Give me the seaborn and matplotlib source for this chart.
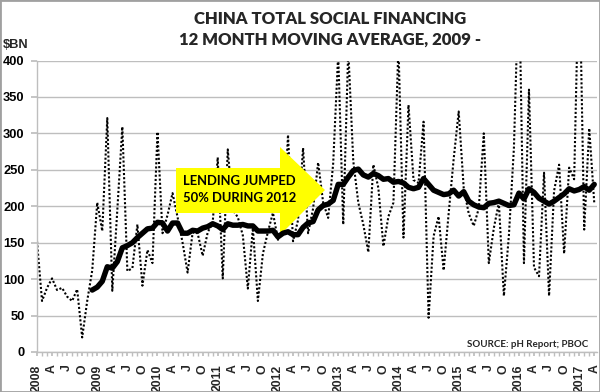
import numpy as np
import pandas as pd
import matplotlib
matplotlib.use("Agg")
import matplotlib.pyplot as plt
import seaborn as sns
from matplotlib.patches import Polygon, Rectangle

# ---------------- data ----------------
start_year = 2008
# monthly total social financing, $bn, Jan 2008 .. Apr 2017
monthly = [
    152, 70, 88, 101, 85, 88, 76, 70, 86, 20, 70, 112,          # 2008
    205, 166, 321, 84, 195, 309, 111, 115, 175, 91, 140, 122,   # 2009
    302, 163, 188, 218, 185, 150, 109, 164, 163, 132, 164, 178, # 2010
    267, 101, 278, 195, 185, 160, 87, 170, 70, 135, 165, 191,   # 2011
    154, 165, 298, 152, 181, 280, 163, 197, 260, 205, 184, 259, # 2012
    410, 175, 415, 262, 205, 175, 137, 257, 225, 145, 186, 205, # 2013
    420, 157, 339, 236, 232, 316, 47, 159, 186, 112, 190, 265,  # 2014
    330, 225, 190, 173, 197, 300, 122, 170, 205, 77, 160, 280,  # 2015
    520, 122, 360, 116, 104, 246, 77, 221, 257, 135, 253, 237,  # 2016
    545, 168, 307, 205,                                         # 2017
]
# 12 month moving average, $bn, Dec 2008 .. Apr 2017
ma_start_index = 11
moving_avg = [
    85,
    89, 97, 117, 115, 124, 143, 146, 150, 157, 163, 169, 170,
    178, 177, 166, 177, 177, 163, 163, 167, 166, 170, 172, 176,
    173, 168, 176, 174, 174, 175, 173, 173, 166, 166, 166, 167,
    158, 163, 165, 161, 161, 171, 177, 179, 195, 201, 203, 208,
    230, 230, 240, 249, 251, 243, 240, 245, 242, 237, 238, 233,
    234, 232, 226, 224, 226, 238, 230, 222, 219, 216, 217, 222,
    214, 220, 207, 202, 199, 198, 204, 205, 207, 204, 201, 202,
    218, 210, 224, 219, 211, 207, 203, 207, 212, 217, 224, 221,
    223, 227, 222, 230,
]
y_ticks = [0, 50, 100, 150, 200, 250, 300, 350, 400]
quarter_letters = ["", "A", "J", "O"]

title_lines = ["CHINA TOTAL SOCIAL FINANCING", "12 MONTH MOVING AVERAGE, 2009 -"]
unit_label = "$BN"
note_lines = ["LENDING JUMPED", "50% DURING 2012"]
source_text = "SOURCE: pH Report; PBOC"

# ---------------- frames ----------------
months = np.arange(len(monthly))
df_m = pd.DataFrame({"month": months, "value": monthly})
df_ma = pd.DataFrame({"month": np.arange(ma_start_index, ma_start_index + len(moving_avg)),
                      "value": moving_avg})

tick_pos = list(range(0, len(monthly), 3))
tick_lab = [str(start_year + p // 12) if p % 12 == 0 else quarter_letters[(p % 12) // 3]
            for p in tick_pos]

# ---------------- style ----------------
sns.set_theme(style="white")
plt.rcParams["font.family"] = ["Liberation Sans", "DejaVu Sans"]

W, H = 600, 392
fig = plt.figure(figsize=(W / 100, H / 100), dpi=100)
L, R, T, B = 37, 597, 60.5, 352
ax = fig.add_axes([L / W, 1 - B / H, (R - L) / W, (B - T) / H])

grid_c = "#BEBEBE"
ax.set_axisbelow(True)
ax.yaxis.grid(True, color=grid_c, lw=1.0)
ax.xaxis.grid(False)

sns.lineplot(data=df_m, x="month", y="value", ax=ax, color="black",
             lw=1.5, linestyle=(0, (1, 1)), zorder=2)
sns.lineplot(data=df_ma, x="month", y="value", ax=ax, color="black",
             lw=3.9, solid_joinstyle="round", solid_capstyle="round", zorder=5)

ax.set_xlim(0, 111.55)
ax.set_ylim(0, 400)
ax.set_xlabel("")
ax.set_ylabel("")

ax.set_yticks(y_ticks)
ax.set_yticklabels([str(v) for v in y_ticks], fontsize=9.3, fontweight="bold")
ax.set_xticks(tick_pos)
ax.set_xticklabels(tick_lab, rotation=90, fontsize=8.8, fontweight="bold")
ax.set_xticks(months, minor=True)

ax.tick_params(axis="y", which="major", length=4, color=grid_c, pad=5,
               left=True, labelcolor="black")
ax.tick_params(axis="x", which="both", length=3, color=grid_c, pad=6,
               bottom=True, direction="out")

for s in ["top", "right"]:
    ax.spines[s].set_visible(False)
for s in ["left", "bottom"]:
    ax.spines[s].set_color(grid_c)
    ax.spines[s].set_linewidth(1.0)

# ---------------- annotation arrow ----------------
def px(xp, yp):
    return ((xp - L) / (R - L), (B - yp) / (B - T))

arrow_pts = [px(176, 168), px(280, 168), px(280, 147), px(325, 190),
             px(280, 235), px(280, 213), px(176, 213)]
ax.add_patch(Polygon(arrow_pts, closed=True, transform=ax.transAxes,
                     facecolor="#FFFF00", edgecolor="none", zorder=4))
for k, line in enumerate(note_lines):
    tx, ty = px(183, 181 + 17.5 * k)
    ax.text(tx, ty, line, transform=ax.transAxes, ha="left", va="center",
            fontsize=9.4, fontweight="bold", family=["Lato", "DejaVu Sans"],
            color="black", zorder=6)

sx, sy = px(588, 344.5)
ax.text(sx, sy, source_text, transform=ax.transAxes, ha="right", va="center",
        fontsize=7, fontweight="bold", family=["Lato", "DejaVu Sans"], zorder=6)

# ---------------- titles ----------------
for k, line in enumerate(title_lines):
    fig.text(330 / W, 1 - (19.5 + 20 * k) / H, line, ha="center", va="center",
             fontsize=12, fontweight="heavy", family=["Lato", "DejaVu Sans"])
fig.text(3 / W, 1 - 45 / H, unit_label, ha="left", va="center",
         fontsize=9.3, fontweight="bold")

fig.add_artist(Rectangle((0, 0), 1, 1, transform=fig.transFigure, fill=False,
                         edgecolor="#A0A0A0", lw=2))

fig.savefig("out.png", dpi=100)
